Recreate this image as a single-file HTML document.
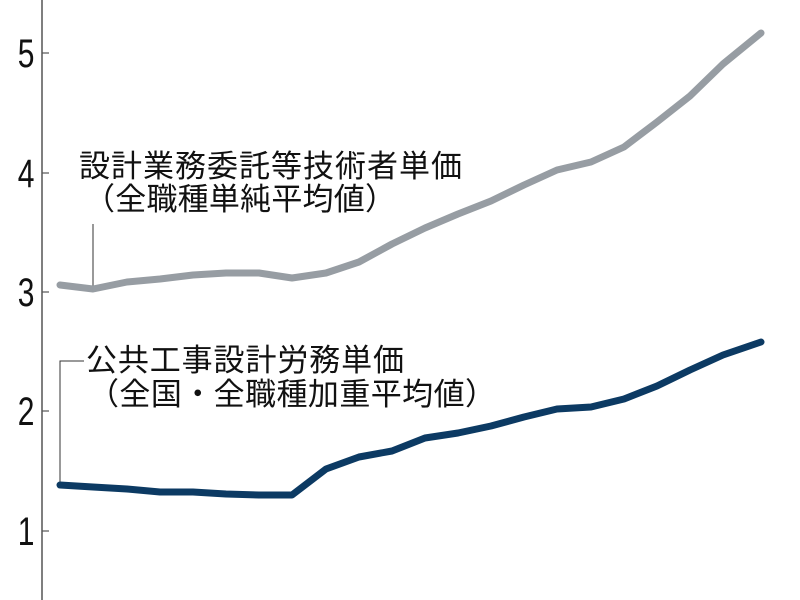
<!DOCTYPE html>
<html><head><meta charset="utf-8"><style>
body{margin:0;background:#fff;}
svg{display:block}
text{font-family:"Liberation Sans","Noto Sans CJK JP",sans-serif;}
</style></head><body>
<svg width="800" height="600" viewBox="0 0 800 600">
<line x1="42" y1="0" x2="42" y2="600" stroke="#555" stroke-width="1.5"/>
<g stroke="#555" stroke-width="1.2">
<line x1="42" y1="53" x2="49" y2="53"/><line x1="42" y1="173" x2="49" y2="173"/>
<line x1="42" y1="292" x2="49" y2="292"/><line x1="42" y1="411" x2="49" y2="411"/>
<line x1="42" y1="531" x2="49" y2="531"/>
</g>
<g font-size="40" fill="#111" text-anchor="end">
<text x="46" y="67" transform="scale(0.75,1)">5</text><text x="46" y="187" transform="scale(0.75,1)">4</text>
<text x="46" y="306" transform="scale(0.75,1)">3</text><text x="46" y="425" transform="scale(0.75,1)">2</text><text x="46" y="545" transform="scale(0.75,1)">1</text>
</g>
<line x1="93" y1="224" x2="93" y2="288" stroke="#333" stroke-width="1"/>
<polyline fill="none" stroke="#333" stroke-width="1" points="60,485 60,361 84,361"/>
<polyline fill="none" stroke="#979da3" stroke-width="7" stroke-linejoin="round" stroke-linecap="round" points="60,285 93,289 127,282 160,279 193,275 226,273 259,273 292,278 326,273 359,262 392,244 425,228 458,214 491,201 524,185 557,170 591,162 624,147 657,122 690,96 723,64 761,33"/>
<polyline fill="none" stroke="#0c3a63" stroke-width="7" stroke-linejoin="round" stroke-linecap="round" points="60,485 93,487 127,489 160,492 193,492 226,494 259,495 292,495 326,469 359,457 392,451 425,438 458,433 491,426 524,417 557,409 591,407 624,399 657,386 690,370 723,355 761,342"/>
<g font-size="31" fill="#111">
<text x="79" y="177" textLength="383" lengthAdjust="spacing">設計業務委託等技術者単価</text>
<text x="84" y="210" textLength="312" lengthAdjust="spacing">（全職種単純平均値）</text>
<text x="86" y="371" textLength="318" lengthAdjust="spacing">公共工事設計労務単価</text>
<text x="88" y="405" textLength="408" lengthAdjust="spacing">（全国・全職種加重平均値）</text>
</g>
</svg>
</body></html>
